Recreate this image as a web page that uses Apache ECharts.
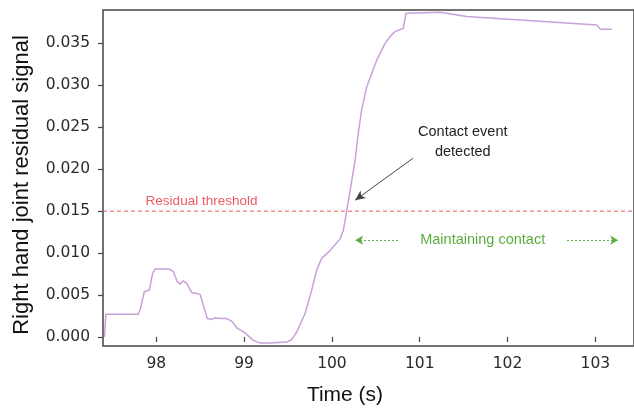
<!DOCTYPE html>
<html>
<head>
<meta charset="utf-8">
<script src="https://cdn.jsdelivr.net/npm/echarts@6/dist/echarts.min.js"></script>
<style>html,body{margin:0;padding:0;background:#fff;}#c{width:634px;height:411px;}</style>
</head>
<body>
<div id="c"></div>
<script>
// ---- data ----
var times = [97.41, 97.425, 97.795, 97.822, 97.863, 97.92, 97.959, 97.985, 98.148, 98.194, 98.239, 98.27, 98.307, 98.346, 98.403, 98.498, 98.535, 98.581, 98.631, 98.669, 98.725, 98.80, 98.859, 98.916, 99.01, 99.105, 99.181, 99.30, 99.485, 99.542, 99.599, 99.694, 99.77, 99.827, 99.884, 99.979, 100.093, 100.13, 100.169, 100.214, 100.264, 100.30, 100.339, 100.396, 100.453, 100.51, 100.605, 100.661, 100.718, 100.813, 100.844, 100.86, 101.231, 101.535, 103.016, 103.054, 103.187];
var residual = [0.0000, 0.0027, 0.0027, 0.0035, 0.0054, 0.0056, 0.0076, 0.0081, 0.0081, 0.0078, 0.0066, 0.0063, 0.0067, 0.0064, 0.0053, 0.0051, 0.0038, 0.0022, 0.0021, 0.0023, 0.0022, 0.0022, 0.0019, 0.0011, 0.0005, -0.0004, -0.0007, -0.0007, -0.0006, -0.0003, 0.0006, 0.0028, 0.0056, 0.0080, 0.0094, 0.0103, 0.0117, 0.0127, 0.0151, 0.0179, 0.0211, 0.0243, 0.0271, 0.0298, 0.0314, 0.0330, 0.0350, 0.0358, 0.0364, 0.0368, 0.0386, 0.0387, 0.0387, 0.0382, 0.0372, 0.0367, 0.0367];
var threshold = 0.015;
var xTicks = [98, 99, 100, 101, 102, 103];
var yTicks = [0.000, 0.005, 0.010, 0.015, 0.020, 0.025, 0.030, 0.035];
var xRange = [97.393, 103.44];
var yRange = [-0.00107, 0.03898];
// annotation anchors (data coords)
var contactArrow = [[100.924, 0.02132], [100.264, 0.01631]];
var contactText = [101.49, 0.02327];
var maintainY = 0.01154;
var maintainLeft = [[100.753, maintainY], [100.264, maintainY]];
var maintainRight = [[102.678, maintainY], [103.26, maintainY]];
var maintainText = [101.717, maintainY];
var thresholdText = [98.515, 0.01619];

var points = times.map(function (t, i) { return [t, residual[i]]; });
var thresholdLine = [[xRange[0], threshold], [xRange[1], threshold]];

var chart = echarts.init(document.getElementById('c'), null, {renderer: 'canvas'});
var tickFont = {fontFamily: 'DejaVu Sans', fontSize: 15.5, color: '#2a2a2a'};
var green = '#5aad3f';
chart.setOption({
  animation: false,
  grid: {left: 103, top: 10, right: -6, bottom: 65, show: true, borderColor: '#444', borderWidth: 1.5, backgroundColor: 'transparent'},
  xAxis: {
    type: 'value', min: xRange[0], max: xRange[1],
    axisLine: {show: false},
    splitLine: {show: false},
    axisTick: {show: true, customValues: xTicks, length: 5, lineStyle: {color: '#444', width: 1.2}},
    axisLabel: Object.assign({customValues: xTicks, margin: 10, formatter: function (v) { return String(Math.round(v)); }}, tickFont)
  },
  yAxis: {
    type: 'value', min: yRange[0], max: yRange[1],
    axisLine: {show: false},
    splitLine: {show: false},
    axisTick: {show: true, customValues: yTicks, length: 5, lineStyle: {color: '#444', width: 1.2}},
    axisLabel: Object.assign({customValues: yTicks, margin: 13, formatter: function (v) { return v.toFixed(3); }}, tickFont)
  },
  series: [{
    type: 'line',
    data: thresholdLine,
    showSymbol: false,
    symbol: 'none',
    silent: true,
    lineStyle: {color: '#ef5a5e', type: [4, 3], width: 1}
  }, {
    type: 'line',
    data: points,
    showSymbol: false,
    symbol: 'none',
    lineStyle: {color: '#c9a0dc', width: 1.5},
    markLine: {
      silent: true,
      animation: false,
      label: {show: false},
      symbol: ['none', 'arrow'],
      data: [
        [{coord: contactArrow[0], symbol: 'none', lineStyle: {color: '#444', type: 'solid', width: 1}}, {coord: contactArrow[1], symbol: 'arrow', symbolSize: [7, 10]}],
        [{coord: maintainLeft[0], symbol: 'none', lineStyle: {color: green, type: [2, 2], width: 1}}, {coord: maintainLeft[1], symbol: 'arrow', symbolSize: [7, 8]}],
        [{coord: maintainRight[0], symbol: 'none', lineStyle: {color: green, type: [2, 2], width: 1}}, {coord: maintainRight[1], symbol: 'arrow', symbolSize: [7, 8]}]
      ]
    },
    markPoint: {
      silent: true,
      animation: false,
      symbol: 'circle',
      symbolSize: 0,
      data: [
        {coord: contactText, label: {show: true, position: 'inside', formatter: 'Contact event\ndetected', fontFamily: 'Liberation Sans', fontSize: 14.5, lineHeight: 20, color: '#222', align: 'center'}},
        {coord: maintainText, label: {show: true, position: 'inside', formatter: 'Maintaining contact', fontFamily: 'Liberation Sans', fontSize: 14.5, color: green}},
        {coord: thresholdText, label: {show: true, position: 'inside', formatter: 'Residual threshold', fontFamily: 'Liberation Sans', fontSize: 13.5, color: '#ef5a5e'}}
      ]
    }
  }],
  graphic: [
    {type: 'text', x: 22, y: 185, rotation: Math.PI / 2, style: {text: 'Right hand joint residual signal', fontFamily: 'Liberation Sans', fontSize: 22, fill: '#111', align: 'center', verticalAlign: 'middle'}},
    {type: 'text', x: 345, y: 395, style: {text: 'Time (s)', fontFamily: 'Liberation Sans', fontSize: 21, fill: '#111', align: 'center', verticalAlign: 'middle'}}
  ]
});
</script>
</body>
</html>
